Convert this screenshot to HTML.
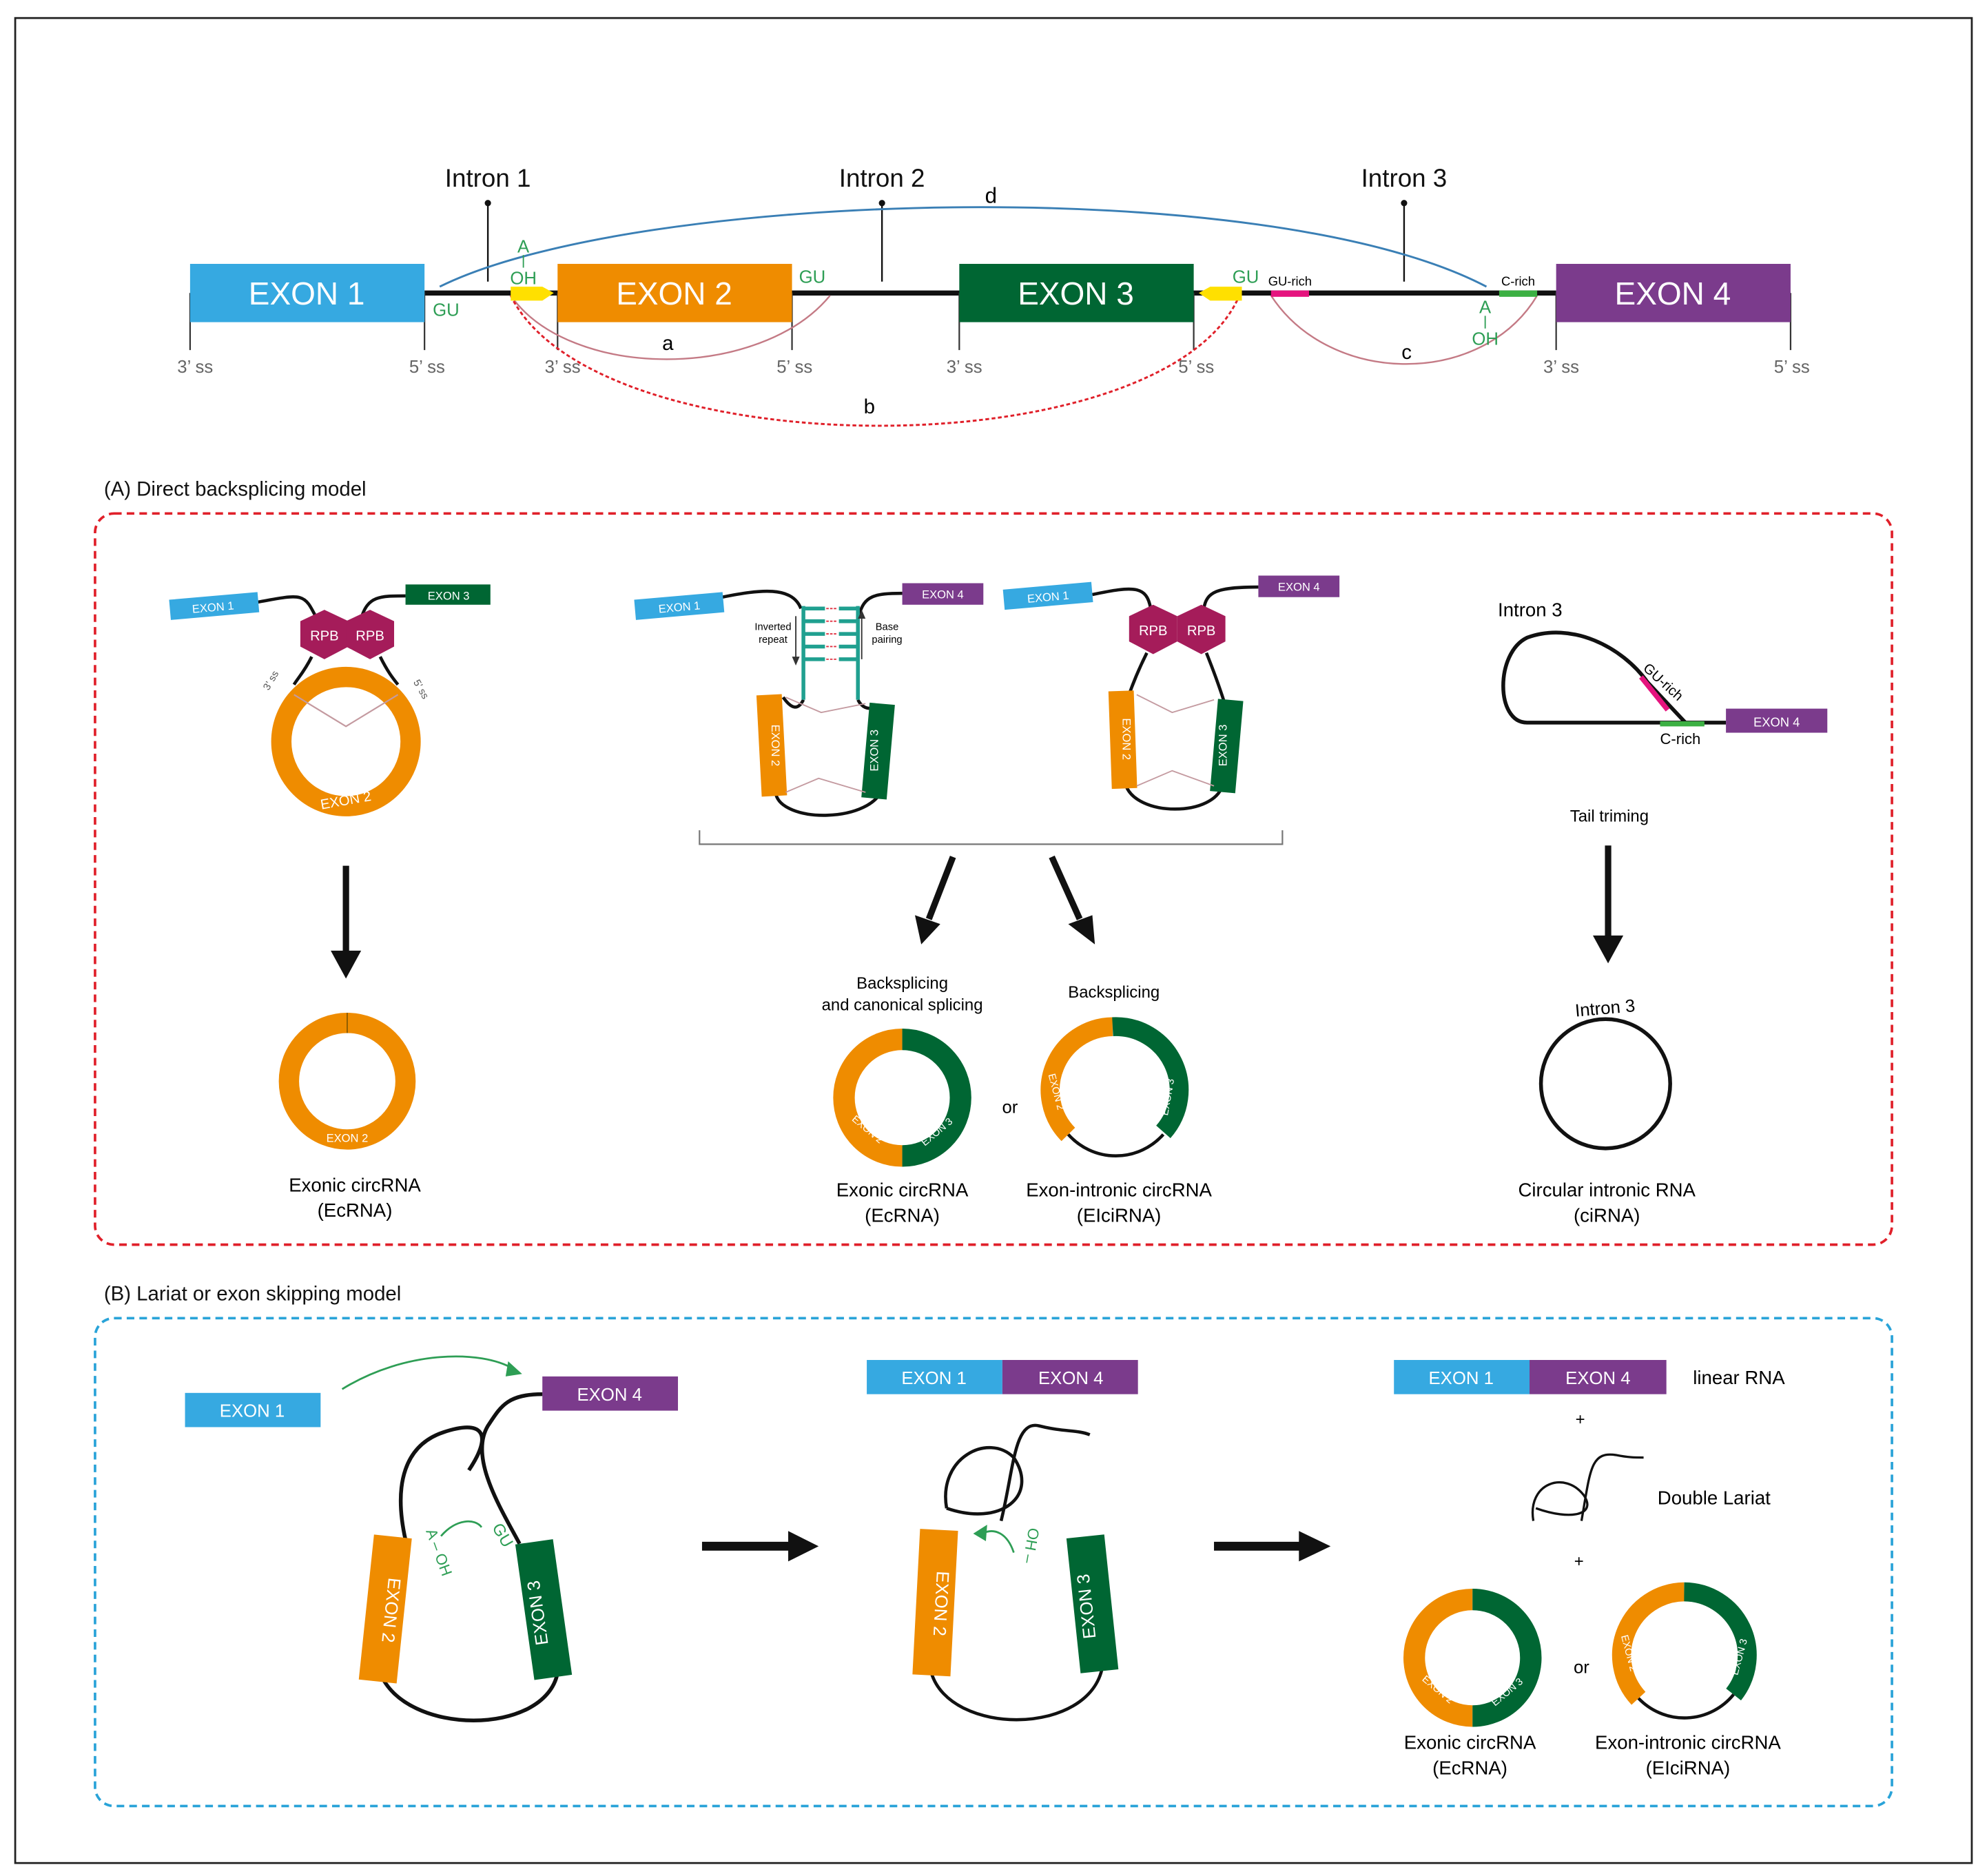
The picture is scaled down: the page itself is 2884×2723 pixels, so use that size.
<!DOCTYPE html>
<html><head><meta charset="utf-8"><style>
html,body{margin:0;padding:0;background:#fff}
svg{display:block}
text{font-family:"Liberation Sans",sans-serif}
</style></head><body>
<svg width="2884" height="2723" viewBox="0 0 1568 1480" xmlns="http://www.w3.org/2000/svg">
<rect x="0" y="0" width="1568" height="1480" fill="#fff"/>
<rect x="12" y="14" width="1544" height="1456" fill="none" stroke="#222" stroke-width="1.5"/>

<!-- TOP GENE -->
<line x1="335" y1="231" x2="1228" y2="231" stroke="#111" stroke-width="4"/>
<g stroke="#333" stroke-width="1.2">
<line x1="150" y1="231" x2="150" y2="276"/><line x1="335" y1="231" x2="335" y2="276"/>
<line x1="440" y1="231" x2="440" y2="276"/><line x1="625" y1="231" x2="625" y2="276"/>
<line x1="757" y1="231" x2="757" y2="276"/><line x1="942" y1="231" x2="942" y2="276"/>
<line x1="1228" y1="231" x2="1228" y2="276"/><line x1="1413" y1="231" x2="1413" y2="276"/>
</g>
<rect x="150" y="208" width="185" height="46" fill="#36a9e1"/>
<rect x="440" y="208" width="185" height="46" fill="#ef8c00"/>
<rect x="757" y="208" width="185" height="46" fill="#006633"/>
<rect x="1228" y="208" width="185" height="46" fill="#7b3b8c"/>
<g fill="#fff" font-size="25" text-anchor="middle">
<text x="242" y="240">EXON 1</text><text x="532" y="240">EXON 2</text>
<text x="849" y="240">EXON 3</text><text x="1320" y="240">EXON 4</text>
</g>
<g fill="#666" font-size="14" text-anchor="middle">
<text x="154" y="294">3’ ss</text><text x="337" y="294">5’ ss</text>
<text x="444" y="294">3’ ss</text><text x="627" y="294">5’ ss</text>
<text x="761" y="294">3’ ss</text><text x="944" y="294">5’ ss</text>
<text x="1232" y="294">3’ ss</text><text x="1414" y="294">5’ ss</text>
</g>
<g fill="#111" font-size="20" text-anchor="middle">
<text x="385" y="147">Intron 1</text><text x="696" y="147">Intron 2</text><text x="1108" y="147">Intron 3</text>
</g>
<g stroke="#111" stroke-width="1.3"><line x1="385" y1="160" x2="385" y2="222"/><line x1="696" y1="160" x2="696" y2="222"/><line x1="1108" y1="160" x2="1108" y2="222"/></g>
<g fill="#111"><circle cx="385" cy="160" r="2.5"/><circle cx="696" cy="160" r="2.5"/><circle cx="1108" cy="160" r="2.5"/></g>
<path d="M347,226 C500,150 1000,135 1173,226" fill="none" stroke="#3a7fb5" stroke-width="1.6"/>
<text x="782" y="160" font-size="17" text-anchor="middle">d</text>
<path d="M403,233 C450,300 600,300 655,233" fill="none" stroke="#c47a85" stroke-width="1.3"/>
<text x="527" y="276" font-size="16" text-anchor="middle">a</text>
<path d="M403,233 C470,370 920,370 978,233" fill="none" stroke="#e0202a" stroke-width="1.6" stroke-dasharray="3,2"/>
<text x="686" y="326" font-size="16" text-anchor="middle">b</text>
<path d="M1003,233 C1050,305 1170,305 1213,233" fill="none" stroke="#c47a85" stroke-width="1.3"/>
<text x="1110" y="283" font-size="16" text-anchor="middle">c</text>
<rect x="1003" y="229" width="30" height="5" fill="#e5147e"/>
<rect x="1183" y="229" width="30" height="5" fill="#3cb043"/>
<polygon points="403,226 428,226 437,231 428,237 403,237" fill="#ffe000"/>
<polygon points="980,226 955,226 946,231 955,237 980,237" fill="#ffe000"/>
<g fill="#2e9e55" font-size="14" text-anchor="middle">
<text x="352" y="249">GU</text><text x="641" y="223">GU</text><text x="983" y="223">GU</text>
<text x="413" y="199">A</text><text x="413" y="224">OH</text><text x="1172" y="247">A</text><text x="1172" y="272">OH</text>
</g>
<line x1="413" y1="201" x2="413" y2="211" stroke="#2e9e55"/><line x1="1172" y1="249" x2="1172" y2="259" stroke="#2e9e55"/>
<text x="1018" y="225" font-size="10" text-anchor="middle">GU-rich</text>
<text x="1198" y="225" font-size="10" text-anchor="middle">C-rich</text>

<!-- SECTION A -->
<text x="82" y="391" font-size="16" fill="#111">(A) Direct backsplicing model</text>
<rect x="75" y="405" width="1418" height="577" rx="15" fill="none" stroke="#e0202a" stroke-width="2" stroke-dasharray="6,4"/>

<!-- A1 -->
<path d="M203,475 C240,468 240,468 250,488 M320,470 C300,470 290,470 285,488" fill="none" stroke="#111" stroke-width="2.5"/>
<rect x="134" y="470" width="70" height="16" fill="#36a9e1" transform="rotate(-5 169 478)"/>
<text x="168" y="482" font-size="9" fill="#fff" text-anchor="middle" transform="rotate(-5 169 478)">EXON 1</text>
<rect x="320" y="461" width="67" height="16" fill="#006633"/>
<text x="354" y="473" font-size="9" fill="#fff" text-anchor="middle">EXON 3</text>
<path d="M246,518 C240,530 235,535 232,540 M300,518 C306,530 310,535 314,540" fill="none" stroke="#111" stroke-width="2.5"/>
<circle cx="273" cy="585" r="51" fill="none" stroke="#ef8c00" stroke-width="16"/>
<path d="M232,548 L273,573 L314,548" fill="none" stroke="#c49aa0" stroke-width="1.2"/>
<polygon points="256,481 275,490 275,510 256,520 237,510 237,490" fill="#a51c5a"/>
<polygon points="292,481 311,490 311,510 292,520 273,510 273,490" fill="#a51c5a"/>
<text x="256" y="505" font-size="11" fill="#fff" text-anchor="middle">RPB</text>
<text x="292" y="505" font-size="11" fill="#fff" text-anchor="middle">RPB</text>
<text x="273" y="635" font-size="11" fill="#fff" text-anchor="middle" transform="rotate(-10 273 632)">EXON 2</text>
<text x="212" y="545" font-size="8" fill="#555" transform="rotate(-60 212 545)">3’ ss</text>
<text x="326" y="538" font-size="8" fill="#555" transform="rotate(60 326 538)">5’ ss</text>
<line x1="273" y1="683" x2="273" y2="752" stroke="#111" stroke-width="5"/>
<polygon points="261,750 285,750 273,772" fill="#111"/>
<circle cx="274" cy="853" r="46" fill="none" stroke="#ef8c00" stroke-width="16"/>
<line x1="274" y1="799" x2="274" y2="815" stroke="#8a5a00" stroke-width="1"/>
<text x="274" y="901" font-size="9" fill="#fff" text-anchor="middle">EXON 2</text>
<text x="280" y="940" font-size="15" text-anchor="middle">Exonic circRNA</text>
<text x="280" y="960" font-size="15" text-anchor="middle">(EcRNA)</text>

<!-- A2 left -->
<path d="M570,471 C600,465 625,462 632,480 M712,468 C690,468 682,470 678,485 M634,552 C630,560 625,560 618,550 M677,552 C680,558 685,560 690,558" fill="none" stroke="#111" stroke-width="2.5"/>
<g stroke="#20a090" stroke-width="3"><line x1="634" y1="480" x2="651" y2="480"/><line x1="634" y1="490" x2="651" y2="490"/><line x1="634" y1="500" x2="651" y2="500"/><line x1="634" y1="510" x2="651" y2="510"/><line x1="634" y1="520" x2="651" y2="520"/><line x1="662" y1="480" x2="677" y2="480"/><line x1="662" y1="490" x2="677" y2="490"/><line x1="662" y1="500" x2="677" y2="500"/><line x1="662" y1="510" x2="677" y2="510"/><line x1="662" y1="520" x2="677" y2="520"/><line x1="634" y1="478" x2="634" y2="552"/><line x1="677" y1="478" x2="677" y2="552"/></g>
<g stroke="#e03040" stroke-width="1" stroke-dasharray="2,1"><line x1="652" y1="480" x2="661" y2="480"/><line x1="652" y1="490" x2="661" y2="490"/><line x1="652" y1="500" x2="661" y2="500"/><line x1="652" y1="510" x2="661" y2="510"/><line x1="652" y1="520" x2="661" y2="520"/></g>
<rect x="501" y="470" width="70" height="16" fill="#36a9e1" transform="rotate(-5 536 478)"/>
<text x="536" y="482" font-size="9" fill="#fff" text-anchor="middle" transform="rotate(-5 536 478)">EXON 1</text>
<rect x="712" y="460" width="64" height="17" fill="#7b3b8c"/>
<text x="744" y="472" font-size="9" fill="#fff" text-anchor="middle">EXON 4</text>
<text x="610" y="497" font-size="8" text-anchor="middle">Inverted</text><text x="610" y="507" font-size="8" text-anchor="middle">repeat</text>
<text x="700" y="497" font-size="8" text-anchor="middle">Base</text><text x="700" y="507" font-size="8" text-anchor="middle">pairing</text>
<line x1="628" y1="486" x2="628" y2="520" stroke="#333"/><polygon points="625,518 631,518 628,525" fill="#333"/>
<line x1="680" y1="486" x2="680" y2="520" stroke="#333"/><polygon points="677,488 683,488 680,481" fill="#333"/>
<path d="M612,625 C615,650 690,650 697,620" fill="none" stroke="#111" stroke-width="2.5"/>
<rect x="599" y="548" width="20" height="80" fill="#ef8c00" transform="rotate(-3 609 588)"/>
<rect x="683" y="555" width="20" height="75" fill="#006633" transform="rotate(5 693 592)"/>
<text x="609" y="588" font-size="9" fill="#fff" text-anchor="middle" transform="rotate(90 609 588)">EXON 2</text>
<text x="693" y="592" font-size="9" fill="#fff" text-anchor="middle" transform="rotate(-90 693 592)">EXON 3</text>
<path d="M620,550 L648,562 L683,555 M620,625 L646,614 L683,625" fill="none" stroke="#c49aa0" stroke-width="1"/>
<!-- A2 right -->
<path d="M862,469 C895,462 905,462 908,480 M993,463 C960,463 952,467 950,480 M905,515 C895,535 890,550 887,560 M952,515 C960,535 965,550 968,560 M888,618 C895,645 960,645 965,618" fill="none" stroke="#111" stroke-width="2.5"/>
<rect x="792" y="462" width="70" height="16" fill="#36a9e1" transform="rotate(-5 827 470)"/>
<text x="827" y="474" font-size="9" fill="#fff" text-anchor="middle" transform="rotate(-5 827 470)">EXON 1</text>
<rect x="993" y="454" width="64" height="17" fill="#7b3b8c"/>
<text x="1025" y="466" font-size="9" fill="#fff" text-anchor="middle">EXON 4</text>
<polygon points="910,477 929,486 929,506 910,516 891,506 891,486" fill="#a51c5a"/>
<polygon points="948,477 967,486 967,506 948,516 929,506 929,486" fill="#a51c5a"/>
<text x="910" y="501" font-size="11" fill="#fff" text-anchor="middle">RPB</text>
<text x="948" y="501" font-size="11" fill="#fff" text-anchor="middle">RPB</text>
<rect x="876" y="545" width="20" height="77" fill="#ef8c00" transform="rotate(-2 886 583)"/>
<rect x="958" y="552" width="20" height="73" fill="#006633" transform="rotate(5 968 588)"/>
<text x="886" y="583" font-size="9" fill="#fff" text-anchor="middle" transform="rotate(90 886 583)">EXON 2</text>
<text x="968" y="588" font-size="9" fill="#fff" text-anchor="middle" transform="rotate(-90 968 588)">EXON 3</text>
<path d="M897,548 L925,562 L958,552 M897,620 L925,608 L958,620" fill="none" stroke="#c49aa0" stroke-width="1"/>
<path d="M552,655 L552,666 L1012,666 L1012,655" fill="none" stroke="#777" stroke-width="1.2"/>
<line x1="752" y1="676" x2="733" y2="725" stroke="#111" stroke-width="5"/><polygon points="722,722 742,729 727,745" fill="#111"/>
<line x1="830" y1="676" x2="852" y2="725" stroke="#111" stroke-width="5"/><polygon points="843,729 862,722 864,745" fill="#111"/>
<text x="712" y="780" font-size="13" text-anchor="middle">Backsplicing</text>
<text x="712" y="797" font-size="13" text-anchor="middle">and canonical splicing</text>
<text x="879" y="787" font-size="13" text-anchor="middle">Backsplicing</text>
<path d="M712,820 A46,46 0 0 0 712,912" fill="none" stroke="#ef8c00" stroke-width="17"/>
<path d="M712,820 A46,46 0 0 1 712,912" fill="none" stroke="#006633" stroke-width="17"/>
<text font-size="8" fill="#fff" text-anchor="middle" transform="translate(683,893) rotate(40)">EXON 2</text>
<text font-size="8" fill="#fff" text-anchor="middle" transform="translate(741,895) rotate(-40)">EXON 3</text>
<text x="797" y="878" font-size="14" text-anchor="middle">or</text>
<path d="M843,895 A50,50 0 0 1 878,810" fill="none" stroke="#ef8c00" stroke-width="15"/>
<path d="M878,810 A50,50 0 0 1 918,893" fill="none" stroke="#006633" stroke-width="15"/>
<path d="M843,895 A50,50 0 0 0 918,895" fill="none" stroke="#111" stroke-width="2.5"/>
<text font-size="8" fill="#fff" text-anchor="middle" transform="translate(831,862) rotate(75)">EXON 2</text>
<text font-size="8" fill="#fff" text-anchor="middle" transform="translate(924,866) rotate(-80)">EXON 3</text>
<text x="712" y="944" font-size="15" text-anchor="middle">Exonic circRNA</text>
<text x="712" y="964" font-size="15" text-anchor="middle">(EcRNA)</text>
<text x="883" y="944" font-size="15" text-anchor="middle">Exon-intronic circRNA</text>
<text x="883" y="964" font-size="15" text-anchor="middle">(EIciRNA)</text>

<!-- A3 -->
<text x="1182" y="486" font-size="15">Intron 3</text>
<path d="M1362,570 L1205,570 C1180,570 1180,515 1205,503 C1240,490 1280,510 1300,538 L1330,570" fill="none" stroke="#111" stroke-width="3"/>
<line x1="1295" y1="534" x2="1316" y2="560" stroke="#e5147e" stroke-width="4"/>
<line x1="1310" y1="571" x2="1345" y2="571" stroke="#3cb043" stroke-width="4"/>
<text x="1296" y="528" font-size="11" transform="rotate(42 1296 528)">GU-rich</text>
<text x="1310" y="587" font-size="12">C-rich</text>
<rect x="1362" y="559" width="80" height="19" fill="#7b3b8c"/>
<text x="1402" y="573" font-size="10" fill="#fff" text-anchor="middle">EXON 4</text>
<text x="1270" y="648" font-size="13" text-anchor="middle">Tail triming</text>
<line x1="1269" y1="667" x2="1269" y2="740" stroke="#111" stroke-width="5"/>
<polygon points="1257,738 1281,738 1269,760" fill="#111"/>
<circle cx="1267" cy="855" r="51" fill="none" stroke="#111" stroke-width="3"/>
<text x="1267" y="800" font-size="14" text-anchor="middle" transform="rotate(-5 1267 800)">Intron 3</text>
<text x="1268" y="944" font-size="15" text-anchor="middle">Circular intronic RNA</text>
<text x="1268" y="964" font-size="15" text-anchor="middle">(ciRNA)</text>

<!-- SECTION B -->
<text x="82" y="1026" font-size="16" fill="#111">(B) Lariat or exon skipping model</text>
<rect x="75" y="1040" width="1418" height="385" rx="15" fill="none" stroke="#29a3d8" stroke-width="2" stroke-dasharray="6,4"/>

<rect x="146" y="1099" width="107" height="27" fill="#36a9e1"/>
<text x="199" y="1118" font-size="14" fill="#fff" text-anchor="middle">EXON 1</text>
<rect x="428" y="1086" width="107" height="27" fill="#7b3b8c"/>
<text x="481" y="1105" font-size="14" fill="#fff" text-anchor="middle">EXON 4</text>
<path d="M270,1096 C320,1065 380,1065 405,1080" fill="none" stroke="#2e9e55" stroke-width="1.5"/>
<polygon points="401,1074 412,1084 399,1086" fill="#2e9e55"/>
<path d="M428,1100 C400,1100 395,1110 385,1125 C370,1150 395,1190 410,1218 M320,1215 C310,1170 320,1140 350,1130 C380,1120 390,1130 370,1160 M300,1320 C320,1370 430,1370 440,1320" fill="none" stroke="#111" stroke-width="3"/>
<rect x="289" y="1212" width="30" height="115" fill="#ef8c00" transform="rotate(6 304 1270)"/>
<rect x="414" y="1216" width="30" height="108" fill="#006633" transform="rotate(-8 429 1270)"/>
<text x="304" y="1270" font-size="14" fill="#fff" text-anchor="middle" transform="rotate(96 304 1270)">EXON 2</text>
<text x="429" y="1272" font-size="14" fill="#fff" text-anchor="middle" transform="rotate(-98 429 1272)">EXON 3</text>
<text x="336" y="1208" font-size="12" fill="#2e9e55" transform="rotate(70 336 1208)">A – OH</text>
<path d="M348,1212 C360,1198 375,1198 380,1205" fill="none" stroke="#2e9e55" stroke-width="1.5"/>
<text x="388" y="1205" font-size="13" fill="#2e9e55" transform="rotate(60 388 1205)">GU</text>
<line x1="554" y1="1220" x2="625" y2="1220" stroke="#111" stroke-width="7"/><polygon points="622,1208 646,1220 622,1232" fill="#111"/>

<rect x="684" y="1073" width="107" height="27" fill="#36a9e1"/>
<text x="737" y="1092" font-size="14" fill="#fff" text-anchor="middle">EXON 1</text>
<rect x="791" y="1073" width="107" height="27" fill="#7b3b8c"/>
<text x="845" y="1092" font-size="14" fill="#fff" text-anchor="middle">EXON 4</text>
<path d="M747,1190 C740,1150 780,1130 800,1150 C820,1180 790,1205 747,1190 M790,1200 C800,1160 800,1120 820,1125 C840,1130 850,1128 860,1132 M735,1320 C750,1370 860,1370 870,1315" fill="none" stroke="#111" stroke-width="2.5"/>
<rect x="723" y="1207" width="30" height="115" fill="#ef8c00" transform="rotate(3 738 1265)"/>
<rect x="847" y="1212" width="30" height="107" fill="#006633" transform="rotate(-6 862 1265)"/>
<text x="738" y="1265" font-size="14" fill="#fff" text-anchor="middle" transform="rotate(93 738 1265)">EXON 2</text>
<text x="862" y="1267" font-size="14" fill="#fff" text-anchor="middle" transform="rotate(-96 862 1267)">EXON 3</text>
<path d="M800,1225 C795,1210 785,1205 775,1210" fill="none" stroke="#2e9e55" stroke-width="1.5"/>
<polygon points="768,1210 779,1203 778,1216" fill="#2e9e55"/>
<text x="812" y="1205" font-size="12" fill="#2e9e55" transform="rotate(100 812 1205)">OH –</text>
<line x1="958" y1="1220" x2="1028" y2="1220" stroke="#111" stroke-width="7"/><polygon points="1025,1208 1050,1220 1025,1232" fill="#111"/>

<rect x="1100" y="1073" width="107" height="27" fill="#36a9e1"/>
<text x="1153" y="1092" font-size="14" fill="#fff" text-anchor="middle">EXON 1</text>
<rect x="1207" y="1073" width="108" height="27" fill="#7b3b8c"/>
<text x="1261" y="1092" font-size="14" fill="#fff" text-anchor="middle">EXON 4</text>
<text x="1336" y="1092" font-size="15">linear RNA</text>
<text x="1247" y="1124" font-size="13" text-anchor="middle">+</text>
<path d="M1210,1200 C1205,1170 1235,1160 1250,1180 C1260,1195 1240,1200 1212,1190 M1248,1200 C1255,1160 1255,1145 1275,1148 C1285,1150 1290,1150 1297,1150" fill="none" stroke="#111" stroke-width="1.8"/>
<text x="1308" y="1187" font-size="15">Double Lariat</text>
<text x="1246" y="1236" font-size="13" text-anchor="middle">+</text>
<path d="M1162,1262 A46,46 0 0 0 1162,1354" fill="none" stroke="#ef8c00" stroke-width="17"/>
<path d="M1162,1262 A46,46 0 0 1 1162,1354" fill="none" stroke="#006633" stroke-width="17"/>
<text font-size="8" fill="#fff" text-anchor="middle" transform="translate(1133,1335) rotate(40)">EXON 2</text>
<text font-size="8" fill="#fff" text-anchor="middle" transform="translate(1191,1337) rotate(-40)">EXON 3</text>
<text x="1248" y="1320" font-size="14" text-anchor="middle">or</text>
<path d="M1293,1340 A50,50 0 0 1 1329,1256" fill="none" stroke="#ef8c00" stroke-width="15"/>
<path d="M1329,1256 A50,50 0 0 1 1368,1337" fill="none" stroke="#006633" stroke-width="15"/>
<path d="M1293,1340 A50,50 0 0 0 1368,1337" fill="none" stroke="#111" stroke-width="2.5"/>
<text font-size="8" fill="#fff" text-anchor="middle" transform="translate(1283,1305) rotate(75)">EXON 2</text>
<text font-size="8" fill="#fff" text-anchor="middle" transform="translate(1375,1308) rotate(-75)">EXON 3</text>
<text x="1160" y="1380" font-size="15" text-anchor="middle">Exonic circRNA</text>
<text x="1160" y="1400" font-size="15" text-anchor="middle">(EcRNA)</text>
<text x="1332" y="1380" font-size="15" text-anchor="middle">Exon-intronic circRNA</text>
<text x="1332" y="1400" font-size="15" text-anchor="middle">(EIciRNA)</text>
</svg>
</body></html>
